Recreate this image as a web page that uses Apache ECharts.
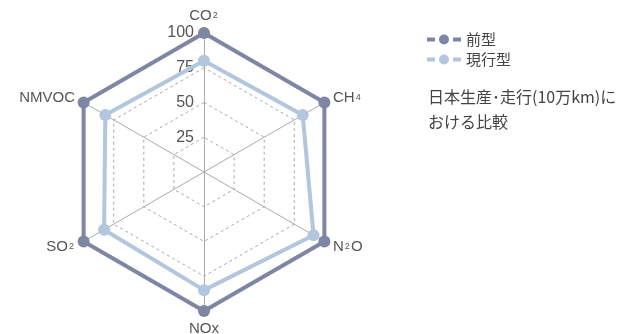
<!DOCTYPE html>
<html>
<head>
<meta charset="utf-8">
<script src="https://cdn.jsdelivr.net/npm/echarts@6/dist/echarts.min.js"></script>
<style>
  html, body { margin: 0; padding: 0; background: #fff; }
  #chart { width: 629px; height: 334px; }
</style>
</head>
<body>
<div id="chart"></div>
<script>
// Emission categories in the radar's drawing order (top, then counter-clockwise)
const gases = [
  { base: 'CO', sub: '2' },
  { base: 'NMVOC', sub: '' },
  { base: 'SO', sub: '2' },
  { base: 'NO', sub: '', tail: 'x' },
  { base: 'N', sub: '2', tail: 'O' },
  { base: 'CH', sub: '4' }
];
// Index values, previous model = 100
const previousModel = [100, 100, 100, 100, 100, 100];
const currentModel = [80, 82, 83, 85, 91, 82];
const seriesNames = ['前型', '現行型'];
const radiusTicks = [0, 25, 50, 75, 100];
const noteText = '日本生産･走行(10万km)に\nおける比較';

const darkColor = '#7e86a4';
const lightColor = '#b2c6de';
const textColor = '#555';

const legendIcon = 'path://M0,3h8v4h-8z M12,5a5,5 0 1,0 10,0a5,5 0 1,0 -10,0z M26,3h8v4h-8z';

const indicator = gases.map(g => ({
  name: g.base + '|' + g.sub + '|' + (g.tail || ''),
  max: radiusTicks[radiusTicks.length - 1],
  min: radiusTicks[0]
}));

const chart = echarts.init(document.getElementById('chart'), null, { renderer: 'canvas' });
chart.setOption({
  animation: false,
  backgroundColor: '#fff',
  textStyle: { fontFamily: '"Liberation Sans", "Noto Sans CJK JP", sans-serif' },
  title: {
    text: noteText,
    left: 423, top: 79,
    textStyle: {
      fontSize: 16, fontWeight: 'normal', color: '#444', lineHeight: 25,
      fontFamily: '"Noto Sans CJK JP", sans-serif'
    }
  },
  legend: {
    orient: 'vertical',
    left: 422, top: 27,
    itemWidth: 34, itemHeight: 10, itemGap: 5,
    icon: legendIcon,
    textStyle: { fontSize: 15, color: '#444', fontFamily: '"Noto Sans CJK JP", sans-serif' },
    data: seriesNames
  },
  radar: {
    center: [204, 172],
    radius: 139,
    startAngle: 90,
    splitNumber: 4,
    shape: 'polygon',
    indicator: indicator,
    axisName: {
      formatter: function (name) {
        const p = name.split('|');
        return '{b|' + p[0] + '}' + (p[1] ? '{s|' + p[1] + '}' : '') + (p[2] ? '{b|' + p[2] + '}' : '');
      },
      rich: {
        b: { fontSize: 15, color: textColor },
        s: { fontSize: 9, color: textColor, padding: [0, 1, 0, 1] }
      }
    },
    nameGap: 10,
    axisLine: { lineStyle: { color: '#aaa', width: 1 } },
    splitLine: { lineStyle: { color: '#aaa', width: 1, type: [3, 3] } },
    splitArea: { show: false },
    axisTick: { show: false },
    axisLabel: { show: false }
  },
  polar: { center: [204, 172], radius: 139 },
  angleAxis: { show: false, startAngle: 90, min: 0, max: 360 },
  radiusAxis: {
    min: radiusTicks[0], max: radiusTicks[radiusTicks.length - 1], interval: 25,
    axisLine: { show: false }, axisTick: { show: false }, splitLine: { show: false },
    axisLabel: {
      fontSize: 16, color: textColor, margin: 10,
      formatter: v => (v === 0 ? '' : String(v))
    }
  },
  series: [{
    type: 'radar',
    symbol: 'circle',
    symbolSize: 12,
    data: [
      {
        name: seriesNames[0], value: previousModel,
        lineStyle: { color: darkColor, width: 4 },
        itemStyle: { color: darkColor }
      },
      {
        name: seriesNames[1], value: currentModel,
        lineStyle: { color: lightColor, width: 4 },
        itemStyle: { color: lightColor }
      }
    ]
  }],
  color: [darkColor, lightColor]
});
</script>
</body>
</html>
